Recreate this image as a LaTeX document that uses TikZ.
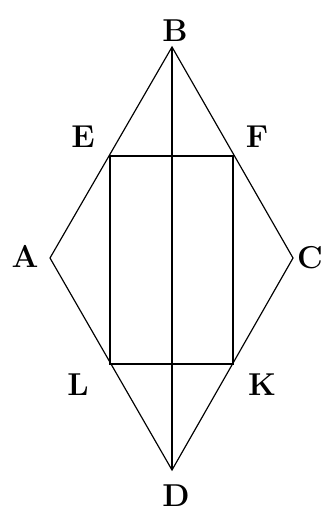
\documentclass[tikz,border=0pt]{standalone}
\usepackage{fontspec}
\usepackage{tikz}
\usetikzlibrary{positioning}

\tikzset{
    edge/.style={line width=1pt, black},
    vlabel/.style={font=\fontsize{27}{32}\selectfont\bfseries, inner sep=0pt}
}

\begin{document}
\begin{tikzpicture}[x=0.03cm, y=-0.03cm]
    \useasboundingbox (0, 0) rectangle (328, 513);

    % Rhombus vertices
    \coordinate (B) at (172, 47);
    \coordinate (D) at (172, 470);
    \coordinate (A) at (50, 258);
    \coordinate (C) at (293, 258);

    % Rectangle corners
    \coordinate (E) at (110, 156);
    \coordinate (F) at (233, 156);
    \coordinate (K) at (233, 364);
    \coordinate (L) at (110, 364);

    % Rhombus, diagonal and rectangle
    \draw[edge] (A) -- (B) -- (C) -- (D) -- cycle;
    \draw[edge] (B) -- (D);
    \draw[edge] (E) -- (F) -- (K) -- (L) -- cycle;

    % Labels
    \node[vlabel] (lB) at (175, 31) {B};
    \node[vlabel] (lD) at (176, 496) {D};
    \node[vlabel] (lA) at (25, 256) {A};
    \node[vlabel] (lC) at (310, 258) {C};
    \node[vlabel] (lE) at (83, 137) {E};
    \node[vlabel] (lF) at (257, 137) {F};
    \node[vlabel] (lL) at (78, 385) {L};
    \node[vlabel] (lK) at (262, 385) {K};
\end{tikzpicture}
\end{document}
